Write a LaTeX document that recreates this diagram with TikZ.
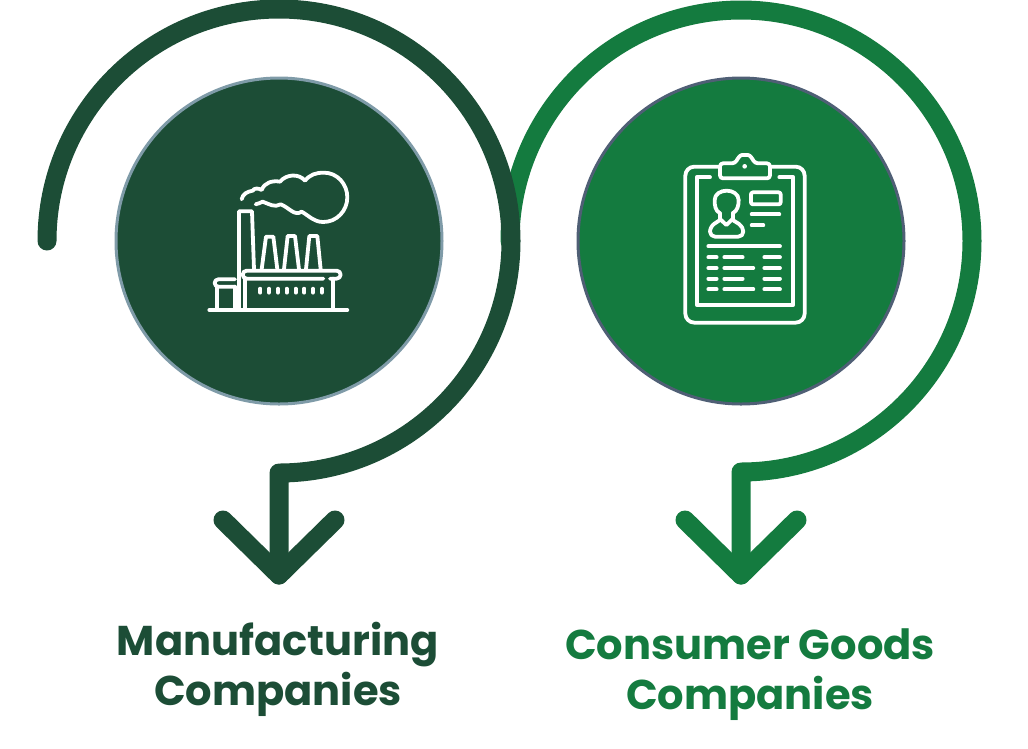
\documentclass[tikz,border=0pt]{standalone}
\usepackage{fontspec}
\setmainfont{Poppins}
\usetikzlibrary{positioning}
\definecolor{darkgreen}{HTML}{1C4D36}
\definecolor{midgreen}{HTML}{147B3F}
\definecolor{darkedge}{HTML}{7F9BA8}
\definecolor{midedge}{HTML}{4F5F75}
\tikzset{
	loopline/.style={line width=19pt,line cap=round,line join=round},
	iconline/.style={draw=white,line width=3.8pt,line cap=round,line join=round},
	disc/.style={circle,minimum size=326pt,inner sep=0pt,line width=3pt},
	caption/.style={font=\fontsize{41.6}{50}\selectfont\bfseries,align=center}
}
\begin{document}
\begin{tikzpicture}[x=1pt,y=-1pt]
	\useasboundingbox (0,0) rectangle (1028,748);
	\node[disc,fill=darkgreen,draw=darkedge] (D1) at (279,241) {};
	\node[disc,fill=midgreen,draw=midedge] (D2) at (741,241) {};

	% green loop goes under the dark one
	\draw[loopline,midgreen] (510,241) arc[start angle=180,end angle=450,radius=231] -- (741,575);
	\draw[loopline,midgreen] (685,520) -- (741,575) -- (797,520);
	\draw[loopline,darkgreen] (47,241) arc[start angle=180,end angle=450,radius=232] -- (279,575);
	\draw[loopline,darkgreen] (223,520) -- (279,575) -- (335,520);

	\node[caption,text=darkgreen] (T1) at (278,669) {Manufacturing\\Companies};
	\node[caption,text=midgreen] (T2) at (750,675) {Consumer Goods\\Companies};

	% factory
	\begin{scope}[shift={(190,150)},x=0.3333pt,y=-0.3333pt]
		\draw[iconline] (58,480) -- (472,480);
		\draw[iconline] (147,480) -- (147,184) -- (186,184) -- (192,358);
		\draw[iconline] (135,388) -- (85,388) arc[start angle=-90,end angle=-270,radius=11] -- (135,410);
		\draw[iconline] (80,410) -- (80,476);
		\draw[iconline] (135,410) -- (135,476);
		\draw[iconline] (400,386) -- (170,386) arc[start angle=90,end angle=270,radius=12] -- (440,362) arc[start angle=-90,end angle=90,radius=12] -- (420,386);
		\draw[iconline] (165,386) -- (165,476);
		\draw[iconline] (430,386) -- (430,476);
		\foreach \wx in {211,237,264,290,317,343,369,396}
			\draw[iconline] (\wx,416) -- (\wx,428);
		\draw[iconline] (215,358) -- (228,260) -- (250,260) -- (262,358);
		\draw[iconline] (282,358) -- (293,258) -- (315,258) -- (327,358);
		\draw[iconline] (348,358) -- (358,258) -- (382,258) -- (392,358);
		\draw[iconline] (155,148) to[out=80,in=190] (188,122) to[out=60,in=150] (215,120)
			to[out=70,in=170] (270,95) to[out=50,in=130] (345,92)
			to[out=50,in=180] (402,68) to[out=0,in=90] (472,142) to[out=-90,in=0] (400,216)
			to[out=180,in=-30] (335,185) to[out=215,in=-20] (272,163)
			to[out=210,in=-20] (218,155) to[out=200,in=10] (197,163);
	\end{scope}

	% clipboard
	\begin{scope}[shift={(660,145)},x=0.3333pt,y=-0.3333pt]
		\draw[iconline,rounded corners=9pt] (180,65) -- (76,65) -- (76,533) -- (434,533) -- (434,65) -- (330,65);
		\draw[iconline] (150,97) -- (110,97) -- (110,480) -- (400,480) -- (400,97) -- (358,97);
		\draw[iconline,rounded corners=3pt] (180,100) -- (180,55) -- (225,55) to[out=60,in=180] (255,30) to[out=0,in=120] (285,55) -- (330,55) -- (330,100) -- cycle;
		\fill[white] (254,64) circle (7);
		% person
		\draw[iconline] (180,205) to[out=150,in=-90] (164,165) to[out=90,in=180] (200,137) to[out=0,in=90] (236,165) to[out=-90,in=30] (218,205);
		\draw[iconline] (180,205) -- (180,225);
		\draw[iconline] (218,205) -- (218,225);
		\draw[iconline,rounded corners=5pt] (180,225) -- (150,245) -- (150,275) -- (250,275) -- (250,245) -- (218,225);
		\draw[iconline] (180,222) -- (199,240) -- (218,222);
		\draw[iconline,rounded corners=2pt] (273,142) rectangle (362,178);
		\draw[iconline] (275,208) -- (358,208);
		\draw[iconline] (275,241) -- (310,241);
		\draw[iconline] (145,304) -- (360,304);
		\foreach \ry/\rx in {337/248,369/280,401/248,433/280}{
			\draw[iconline] (145,\ry) -- (170,\ry);
			\draw[iconline] (193,\ry) -- (\rx,\ry);
			\draw[iconline] (313,\ry) -- (360,\ry);
		}
	\end{scope}
\end{tikzpicture}
\end{document}
